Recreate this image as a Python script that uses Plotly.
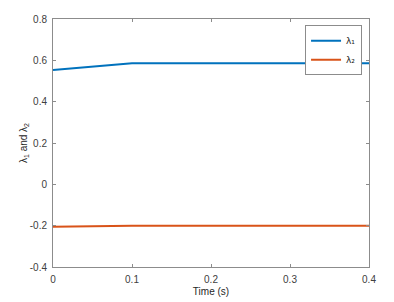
import plotly.graph_objects as go

time_s = [0, 0.1, 0.2, 0.3, 0.4]
lambda1 = [0.553, 0.586, 0.586, 0.586, 0.586]
lambda2 = [-0.205, -0.201, -0.201, -0.201, -0.201]
x_ticks = [0, 0.1, 0.2, 0.3, 0.4]
y_ticks = [-0.4, -0.2, 0, 0.2, 0.4, 0.6, 0.8]

fig = go.Figure()
fig.add_trace(go.Scatter(x=time_s, y=lambda1, mode="lines", name="λ₁",
                         line=dict(color="#0072BD", width=2)))
fig.add_trace(go.Scatter(x=time_s, y=lambda2, mode="lines", name="λ₂",
                         line=dict(color="#D95319", width=2)))

axis_common = dict(showline=True, linecolor="#8c8c8c", linewidth=1, mirror="ticks",
                   ticks="inside", ticklen=3, tickcolor="#8c8c8c", showgrid=False,
                   zeroline=False, automargin=False,
                   tickfont=dict(size=10, color="#404040"))

fig.update_layout(
    width=394, height=302,
    margin=dict(l=53, r=25, t=19, b=35),
    paper_bgcolor="white", plot_bgcolor="white",
    font=dict(family="Liberation Sans, Arial, sans-serif", size=10, color="#262626"),
    xaxis=dict(range=[0, 0.4], tickvals=x_ticks, ticktext=[str(v) for v in x_ticks],
               ticklabelstandoff=3,
               title=dict(text="Time (s)", standoff=3, font=dict(size=10)), **axis_common),
    yaxis=dict(range=[-0.4, 0.8], tickvals=y_ticks, ticktext=[str(v) for v in y_ticks],
               ticklabelstandoff=3,
               title=dict(text="λ<sub>1</sub> and λ<sub>2</sub>", standoff=0, font=dict(size=10)),
               **axis_common),
    legend=dict(x=0.978, y=0.975, xanchor="right", yanchor="top",
                bordercolor="#8c8c8c", borderwidth=1, bgcolor="white",
                font=dict(size=9, family="DejaVu Sans"), tracegroupgap=0, itemwidth=30),
    showlegend=True,
)

fig.write_html("out.html", config={"displayModeBar": False},
               post_script="document.body.style.margin='0';document.body.style.padding='0';")
